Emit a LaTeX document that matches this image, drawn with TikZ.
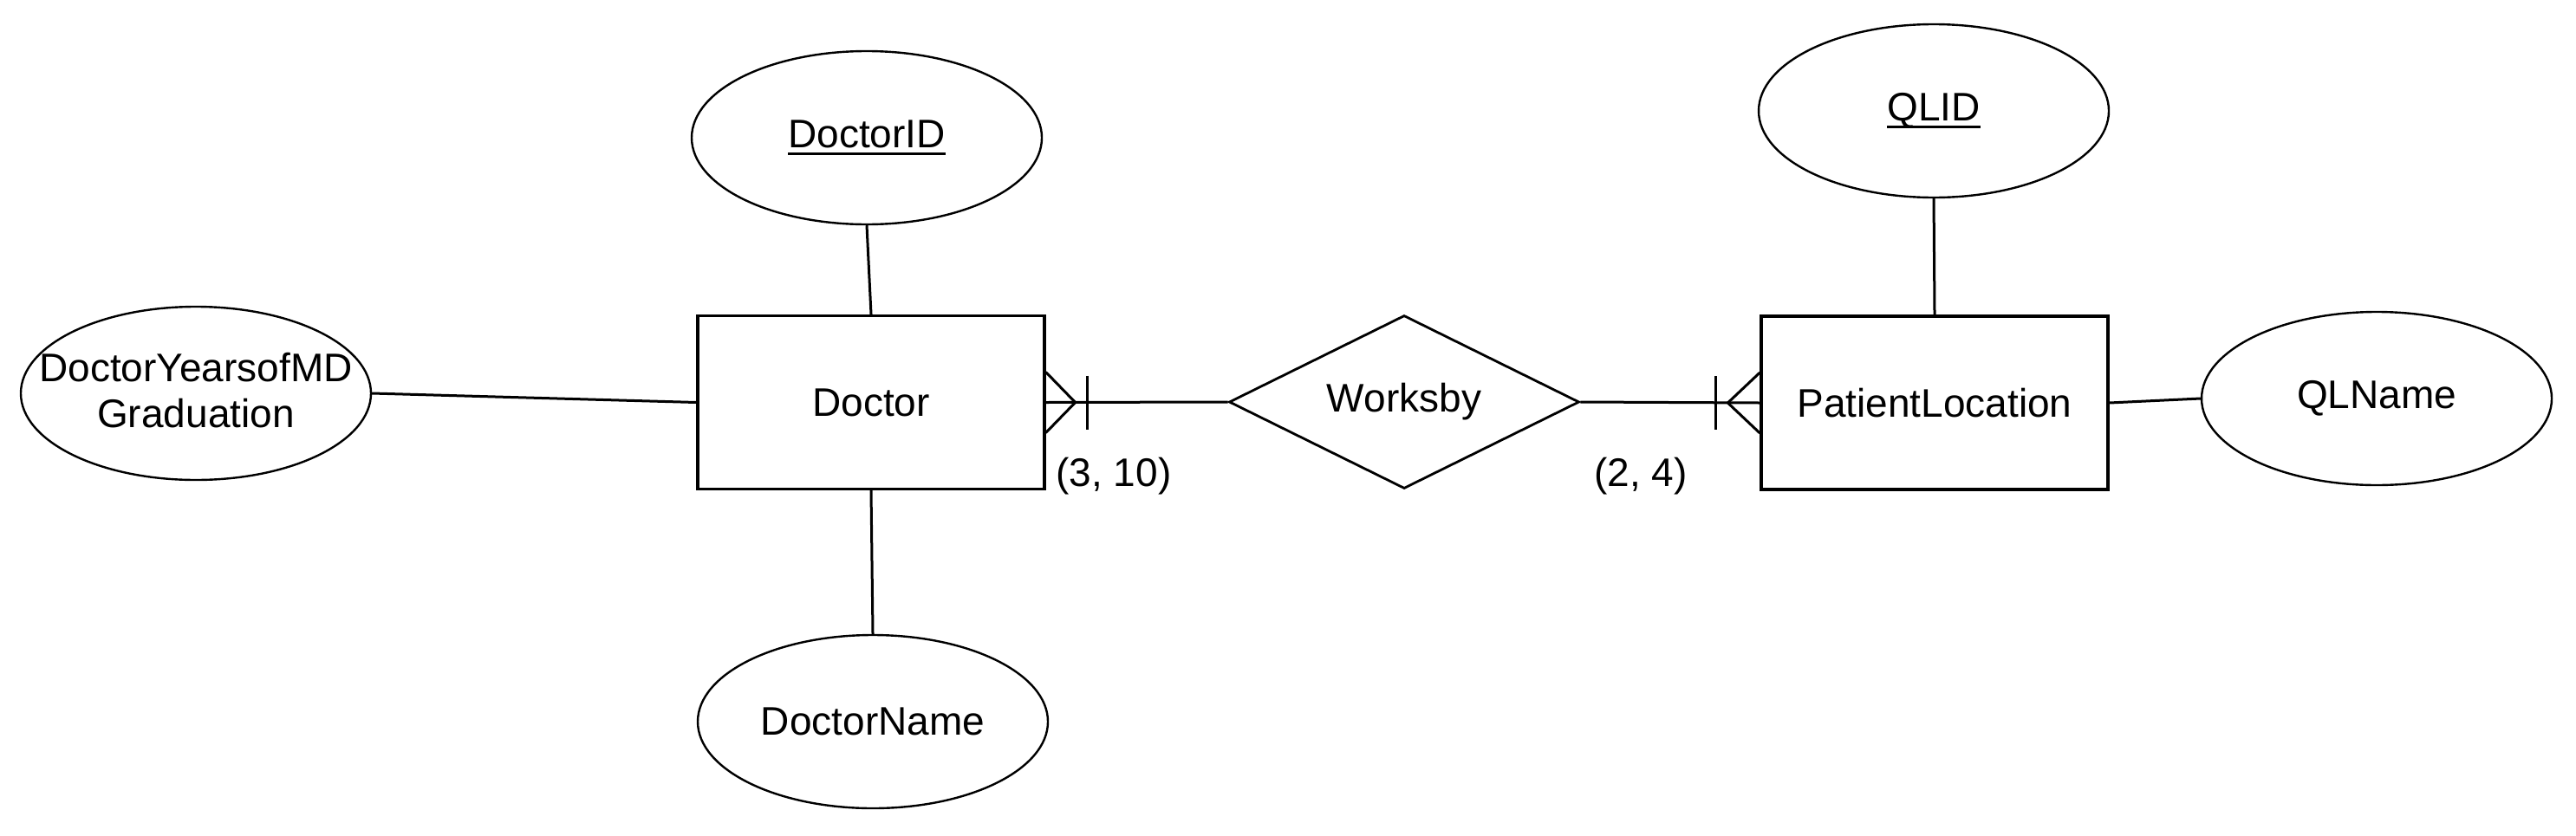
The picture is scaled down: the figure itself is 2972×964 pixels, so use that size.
\documentclass[tikz,border=0pt]{standalone}
\usepackage{fontspec}
\setmainfont{Liberation Sans}
\usetikzlibrary{shapes.geometric}
\newlength\myulw
\newcommand\myul[1]{\settowidth\myulw{#1}\leavevmode\rlap{\rule[-2.1pt]{\myulw}{0.7pt}}#1}
\begin{document}
\begin{tikzpicture}[x=0.25pt,y=-0.25pt,
  every node/.style={font=\fontsize{11.5}{13.25}\selectfont},
  entity/.style={draw,line width=0.8pt,rectangle,minimum width=100pt,minimum height=50pt,inner sep=0pt},
  attr/.style={draw,line width=0.6pt,ellipse,minimum width=101pt,minimum height=50pt,inner sep=0pt,align=center},
  rel/.style={draw,line width=0.7pt,diamond,aspect=2,minimum width=101pt,minimum height=50pt,inner sep=0pt},
  conn/.style={line width=0.75pt},
  lbl/.style={inner sep=0pt}]
\useasboundingbox (0,0) rectangle (2972,964);
\node[entity] (doctor) at (1005,464.5) {Doctor};
\node[entity] (ploc) at (2232,465) {PatientLocation};
\node[rel] (works) at (1620,464) {Worksby};
\node[attr] (did) at (1000,159) {\myul{DoctorID}};
\node[attr] (dname) at (1007,833) {DoctorName};
\node[attr] (dymg) at (226,454) {\raisebox{-3.6pt}[0pt][0pt]{\makebox[0pt]{\begin{tabular}{@{}c@{}}DoctorYearsofMD\\Graduation\end{tabular}}}};
\node[attr] (qlid) at (2231,128) {\myul{QLID}};
\node[attr] (qlname) at (2742,460) {QLName};
\draw[conn] (did.south) -- (doctor.north);
\draw[conn] (doctor.south) -- (dname.north);
\draw[conn] (dymg.east) -- (doctor.west);
\draw[conn] (qlid.south) -- (ploc.north);
\draw[conn] (ploc.east) -- (qlname.west);
% Doctor -- Worksby
\draw[conn] (doctor.east) -- (works.west);
\draw[conn] ([yshift=8.75pt]doctor.east) -- ([xshift=8.5pt]doctor.east) -- ([yshift=-8.75pt]doctor.east);
\draw[conn] ([xshift=12pt,yshift=7.75pt]doctor.east) -- ([xshift=12pt,yshift=-7.75pt]doctor.east);
% Worksby -- PatientLocation
\draw[conn] (works.east) -- (ploc.west);
\draw[conn] ([yshift=8.75pt]ploc.west) -- ([xshift=-9.25pt]ploc.west) -- ([yshift=-8.75pt]ploc.west);
\draw[conn] ([xshift=-12.75pt,yshift=7.75pt]ploc.west) -- ([xshift=-12.75pt,yshift=-7.75pt]ploc.west);
\node[lbl] (c1) at (1285,550) {(3, 10)};
\node[lbl] (c2) at (1893,550) {(2, 4)};
\end{tikzpicture}
\end{document}
